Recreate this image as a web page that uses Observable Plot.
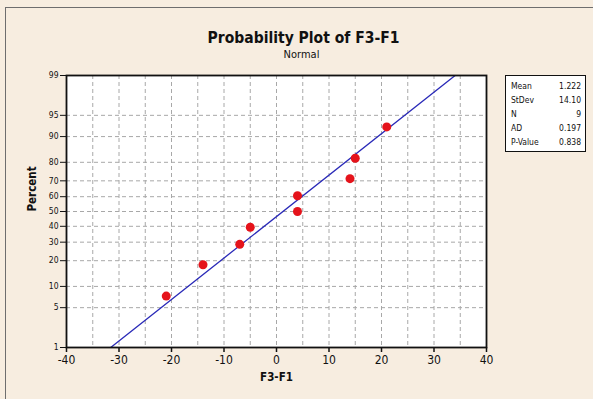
<!DOCTYPE html>
<html><head><meta charset="utf-8">
<script src="https://cdn.jsdelivr.net/npm/d3@7"></script>
<script src="https://cdn.jsdelivr.net/npm/@observablehq/plot@0.6"></script>
<style>
body{margin:0;background:#f7ede0;}
#wrap{position:relative;width:593px;height:399px;overflow:hidden;background:#f7ede0;font-family:Tahoma,"DejaVu Sans Condensed","DejaVu Sans",sans-serif;}
#border{position:absolute;left:5px;top:7px;width:620px;height:430px;border:1px solid #6e6e6e;box-sizing:border-box;}
#chart{position:absolute;left:0;top:0;}
#stats{position:absolute;left:505px;top:75px;width:81px;height:77px;background:#fff;border:1.5px solid #111;box-sizing:border-box;font-size:8.5px;padding:5px 4px 0 5px;}
#stats .row{display:flex;justify-content:space-between;height:14px;line-height:10px;color:#111;}
</style></head><body>
<div id="wrap"><div id="border"></div><div id="chart"></div><div id="stats"></div></div>
<script>
// Data
const values = [-21, -14, -7, -5, 4, 4, 14, 15, 21];
const percents = [7.4, 18.1, 28.7, 39.4, 50.0, 60.6, 71.3, 81.9, 92.6];
const yTicks = [1, 5, 10, 20, 30, 40, 50, 60, 70, 80, 90, 95, 99];
const yGrid = [5, 10, 20, 30, 40, 50, 60, 70, 80, 90, 95];
const xTicks = [-40, -30, -20, -10, 0, 10, 20, 30, 40];
const xGrid = [-35, -30, -25, -20, -15, -10, -5, 0, 5, 10, 15, 20, 25, 30, 35];
const statLabels = ["Mean", "StDev", "N", "AD", "P-Value"];
const statValues = ["1.222", "14.10", "9", "0.197", "0.838"];
const fitMean = 1.222, fitSd = 14.10;
const fitPercents = [1, 99];

// Normal quantile (Acklam) for the probability scale
function probit(p){
  const a=[-3.969683028665376e+01,2.209460984245205e+02,-2.759285104469687e+02,1.383577518672690e+02,-3.066479806614716e+01,2.506628277459239e+00];
  const b=[-5.447609879822406e+01,1.615858368580409e+02,-1.556989798598866e+02,6.680131188771972e+01,-1.328068155288572e+01];
  const c=[-7.784894002430293e-03,-3.223964580411365e-01,-2.400758277161838e+00,-2.549732539343734e+00,4.374664141464968e+00,2.938163982698783e+00];
  const d=[7.784695709041462e-03,3.224671290700398e-01,2.445134137142996e+00,3.754408661907416e+00];
  const pl=0.02425, ph=1-pl; let q, r;
  if (p < pl) { q=Math.sqrt(-2*Math.log(p)); return (((((c[0]*q+c[1])*q+c[2])*q+c[3])*q+c[4])*q+c[5])/((((d[0]*q+d[1])*q+d[2])*q+d[3])*q+1); }
  if (p <= ph) { q=p-0.5; r=q*q; return (((((a[0]*r+a[1])*r+a[2])*r+a[3])*r+a[4])*r+a[5])*q/(((((b[0]*r+b[1])*r+b[2])*r+b[3])*r+b[4])*r+1); }
  q=Math.sqrt(-2*Math.log(1-p)); return -(((((c[0]*q+c[1])*q+c[2])*q+c[3])*q+c[4])*q+c[5])/((((d[0]*q+d[1])*q+d[2])*q+d[3])*q+1);
}

const points = values.map((v, i) => ({v, p: percents[i]}));
const fit = fitPercents.map(p => ({p, x: fitMean + fitSd * probit(p / 100)}));
const font = 'Tahoma,"DejaVu Sans Condensed","DejaVu Sans",sans-serif';

const chart = Plot.plot({
  width: 593, height: 399,
  marginLeft: 66, marginRight: 107, marginTop: 75, marginBottom: 52,
  style: {background: "transparent", fontFamily: font, color: "#111", overflow: "visible"},
  x: {domain: [-40, 40]},
  y: {transform: p => probit(p / 100), domain: [probit(0.01), probit(0.99)]},
  marks: [
    Plot.frame({fill: "white", stroke: "white"}),
    Plot.gridX(xGrid, {stroke: "#a8a8a8", strokeOpacity: 1, strokeWidth: 1, strokeDasharray: "4,3"}),
    Plot.gridY(yGrid, {stroke: "#a8a8a8", strokeOpacity: 1, strokeWidth: 1, strokeDasharray: "4,3"}),
    Plot.axisX(xTicks, {tickSize: 5, tickPadding: 3, fontSize: 12, stroke: "#111", strokeWidth: 1.5, label: null, tickFormat: d => d < 0 ? "-" + Math.abs(d) : String(d)}),
    Plot.axisY(yTicks, {tickSize: 6, tickPadding: 2, fontSize: 8.5, stroke: "#111", strokeWidth: 1, label: null, tickFormat: d => String(d)}),
    Plot.line(fit, {x: "x", y: "p", stroke: "#2a2ab8", strokeWidth: 1.3, clip: true}),
    Plot.dot(points, {x: "v", y: "p", r: 4.5, fill: "#e5131b", stroke: null}),
    Plot.frame({stroke: "#111", strokeWidth: 1.8}),
    Plot.text(["Probability Plot of F3-F1"], {frameAnchor: "top", dx: 27, dy: -44, fontSize: 15.5, fontWeight: "bold", fill: "#111"}),
    Plot.text(["Normal"], {frameAnchor: "top", dx: 25, dy: -25, fontSize: 11, fill: "#111"}),
    Plot.text(["Percent"], {frameAnchor: "left", dx: -34, rotate: -90, fontSize: 11.5, fontWeight: "bold", fill: "#111"}),
    Plot.text(["F3-F1"], {frameAnchor: "bottom", dy: 33, fontSize: 11.5, fontWeight: "bold", fill: "#111"})
  ]
});
document.getElementById("chart").appendChild(chart);

const stats = document.getElementById("stats");
statLabels.forEach((l, i) => {
  const row = document.createElement("div");
  row.className = "row";
  const a = document.createElement("span"); a.textContent = l;
  const b = document.createElement("span"); b.textContent = statValues[i];
  row.appendChild(a); row.appendChild(b);
  stats.appendChild(row);
});
</script>
</body></html>
